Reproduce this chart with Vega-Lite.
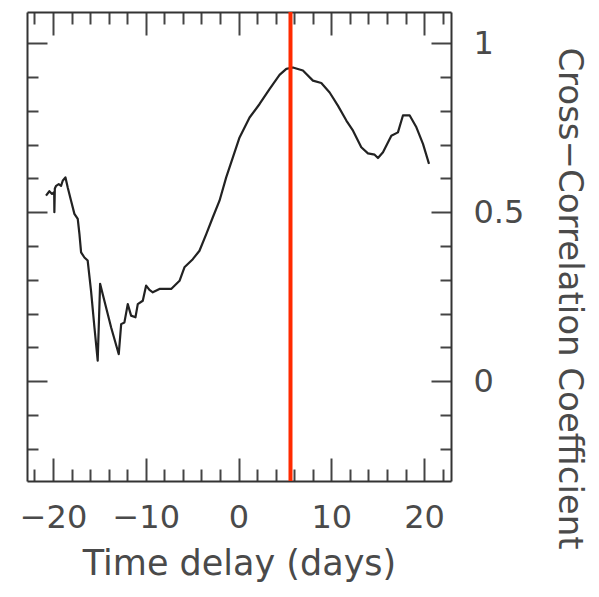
{
  "$schema": "https://vega.github.io/schema/vega-lite/v6.json",
  "width": 424,
  "height": 469,
  "autosize": {"type": "none"},
  "padding": {"left": 27, "top": 12, "right": 148, "bottom": 116},
  "background": "white",
  "config": {
    "view": {"stroke": null},
    "font": "DejaVu Sans",
    "axis": {"grid": false, "domainColor": "#333", "domainWidth": 2, "tickColor": "#444", "tickWidth": 2, "labelFont": "DejaVu Sans", "titleFont": "DejaVu Sans", "labelColor": "#4a4a4a", "titleColor": "#4a4a4a", "titleFontWeight": "normal"}
  },
  "datasets": {
    "curve": [
      {"lag": -20.75, "r": 0.549}, {"lag": -20.39, "r": 0.562}, {"lag": -20.1, "r": 0.554}, {"lag": -19.87, "r": 0.559},
      {"lag": -19.85, "r": 0.5}, {"lag": -19.8, "r": 0.57}, {"lag": -19.66, "r": 0.578}, {"lag": -19.38, "r": 0.583},
      {"lag": -19.13, "r": 0.578}, {"lag": -18.95, "r": 0.593}, {"lag": -18.66, "r": 0.603}, {"lag": -18.41, "r": 0.573},
      {"lag": -18.05, "r": 0.534}, {"lag": -17.69, "r": 0.495}, {"lag": -17.33, "r": 0.48}, {"lag": -17.15, "r": 0.436},
      {"lag": -16.97, "r": 0.381}, {"lag": -16.61, "r": 0.366}, {"lag": -16.26, "r": 0.357}, {"lag": -15.9, "r": 0.268},
      {"lag": -15.53, "r": 0.159}, {"lag": -15.18, "r": 0.061}, {"lag": -14.92, "r": 0.288}, {"lag": -14.46, "r": 0.238},
      {"lag": -13.73, "r": 0.159}, {"lag": -12.91, "r": 0.08}, {"lag": -12.65, "r": 0.169}, {"lag": -12.3, "r": 0.174},
      {"lag": -11.94, "r": 0.228}, {"lag": -11.58, "r": 0.194}, {"lag": -11.11, "r": 0.189}, {"lag": -10.86, "r": 0.228},
      {"lag": -10.32, "r": 0.238}, {"lag": -9.96, "r": 0.283}, {"lag": -9.6, "r": 0.27}, {"lag": -9.24, "r": 0.263},
      {"lag": -8.52, "r": 0.273}, {"lag": -7.26, "r": 0.273}, {"lag": -6.36, "r": 0.297}, {"lag": -5.83, "r": 0.337},
      {"lag": -4.93, "r": 0.361}, {"lag": -4.21, "r": 0.386}, {"lag": -3.48, "r": 0.435}, {"lag": -2.77, "r": 0.485},
      {"lag": -2.05, "r": 0.534}, {"lag": -1.33, "r": 0.603}, {"lag": -0.61, "r": 0.662}, {"lag": 0.11, "r": 0.721},
      {"lag": 1.19, "r": 0.78}, {"lag": 2.27, "r": 0.82}, {"lag": 3.34, "r": 0.864}, {"lag": 4.42, "r": 0.906},
      {"lag": 5.15, "r": 0.924}, {"lag": 5.86, "r": 0.928}, {"lag": 6.94, "r": 0.919}, {"lag": 8.02, "r": 0.889},
      {"lag": 8.92, "r": 0.882}, {"lag": 9.82, "r": 0.854}, {"lag": 10.71, "r": 0.815}, {"lag": 11.62, "r": 0.771},
      {"lag": 12.34, "r": 0.741}, {"lag": 13.23, "r": 0.692}, {"lag": 13.95, "r": 0.674}, {"lag": 14.67, "r": 0.67},
      {"lag": 15.03, "r": 0.66}, {"lag": 15.57, "r": 0.677}, {"lag": 16.47, "r": 0.726}, {"lag": 17.18, "r": 0.736},
      {"lag": 17.72, "r": 0.786}, {"lag": 18.45, "r": 0.786}, {"lag": 19.17, "r": 0.751}, {"lag": 19.88, "r": 0.702},
      {"lag": 20.53, "r": 0.643}
    ],
    "marker": [{"lag": 5.6}]
  },
  "layer": [
    {
      "data": {"name": "curve"},
      "mark": {"type": "line", "color": "#222", "strokeWidth": 2.2, "strokeJoin": "round"},
      "encoding": {
        "x": {
          "field": "lag", "type": "quantitative",
          "scale": {"domain": [-22.8, 22.9], "nice": false, "zero": false},
          "axis": {
            "orient": "bottom",
            "title": "Time delay (days)",
            "values": [-22, -20, -18, -16, -14, -12, -10, -8, -6, -4, -2, 0, 2, 4, 6, 8, 10, 12, 14, 16, 18, 20, 22],
            "labelExpr": "datum.value % 10 === 0 ? datum.label : ''",
            "tickSize": {"condition": {"test": "datum.value % 10 === 0", "value": -23}, "value": -12},
            "labelFontSize": 32,
            "labelBaseline": "alphabetic",
            "labelPadding": 69,
            "labelFlush": false,
            "labelOverlap": false,
            "titleFontSize": 35,
            "titleBaseline": "alphabetic",
            "titleY": 93
          }
        },
        "y": {
          "field": "r", "type": "quantitative",
          "scale": {"domain": [-0.295, 1.092], "nice": false, "zero": false},
          "axis": {
            "orient": "right",
            "title": "Cross−Correlation Coefficient",
            "values": [-0.2, -0.1, 0, 0.1, 0.2, 0.3, 0.4, 0.5, 0.6, 0.7, 0.8, 0.9, 1],
            "labelExpr": "indexof([0, 0.5, 1], datum.value) >= 0 ? '' + datum.value : ''",
            "tickSize": {"condition": {"test": "indexof([0, 0.5, 1], datum.value) >= 0", "value": -20}, "value": -11},
            "labelFontSize": 32,
            "labelAlign": "left",
            "labelBaseline": "middle",
            "labelPadding": 42,
            "labelFlush": false,
            "labelOverlap": false,
            "titleFontSize": 34,
            "titleAngle": 90,
            "titleAlign": "center",
            "titleBaseline": "middle",
            "titleX": 117,
            "titleY": 286
          }
        }
      }
    },
    {
      "data": {"name": "curve"},
      "mark": {"type": "line", "opacity": 0},
      "encoding": {
        "x": {
          "field": "lag", "type": "quantitative",
          "axis": {
            "orient": "top", "title": null, "labels": false,
            "values": [-22, -20, -18, -16, -14, -12, -10, -8, -6, -4, -2, 0, 2, 4, 6, 8, 10, 12, 14, 16, 18, 20, 22],
            "tickSize": {"condition": {"test": "datum.value % 10 === 0", "value": -23}, "value": -12}
          }
        },
        "y": {
          "field": "r", "type": "quantitative",
          "axis": {
            "orient": "left", "title": null, "labels": false,
            "values": [-0.2, -0.1, 0, 0.1, 0.2, 0.3, 0.4, 0.5, 0.6, 0.7, 0.8, 0.9, 1],
            "tickSize": {"condition": {"test": "indexof([0, 0.5, 1], datum.value) >= 0", "value": -20}, "value": -11}
          }
        }
      }
    },
    {
      "data": {"name": "marker"},
      "mark": {"type": "rule", "color": "#ff2a00", "strokeWidth": 4},
      "encoding": {
        "x": {"field": "lag", "type": "quantitative", "axis": null}
      }
    }
  ],
  "resolve": {"axis": {"x": "independent", "y": "independent"}}
}
